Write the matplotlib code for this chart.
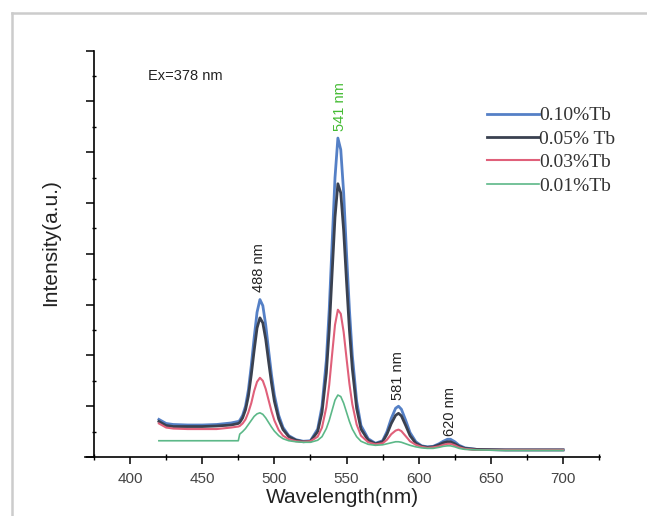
import matplotlib
matplotlib.use('Agg')
import matplotlib.pyplot as plt
from matplotlib.lines import Line2D
from matplotlib.ticker import MultipleLocator, NullFormatter

# wavelength grid (nm)
wavelength = [420, 425, 430, 440, 450, 460, 470, 475, 476, 478, 480, 482, 484, 486, 488, 490,
              492, 494, 496, 498, 500, 503, 506, 510, 515, 520, 525, 530, 533, 536, 538, 540,
              542, 544, 546, 548, 550, 552, 554, 557, 560, 565, 570, 575, 578, 581, 584, 586,
              588, 591, 594, 598, 602, 606, 610, 614, 617, 620, 622, 625, 628, 632, 640, 660,
              680, 700]

tb010 = [0.74, 0.66, 0.64, 0.63, 0.63, 0.64, 0.67, 0.70, 0.72, 0.82, 1.00, 1.32, 1.80, 2.35, 2.85, 3.10,
         2.98, 2.60, 2.10, 1.62, 1.22, 0.82, 0.58, 0.42, 0.34, 0.31, 0.32, 0.55, 1.00, 1.90, 2.90, 4.20,
         5.50, 6.28, 6.05, 5.20, 4.00, 2.90, 2.00, 1.10, 0.62, 0.36, 0.27, 0.32, 0.50, 0.76, 0.96, 1.00,
         0.94, 0.72, 0.48, 0.30, 0.22, 0.20, 0.21, 0.26, 0.31, 0.35, 0.35, 0.30, 0.23, 0.18, 0.15, 0.14,
         0.14, 0.14]

tb005 = [0.70, 0.62, 0.60, 0.60, 0.60, 0.61, 0.63, 0.66, 0.68, 0.77, 0.93, 1.20, 1.62, 2.10, 2.54, 2.74,
         2.64, 2.32, 1.88, 1.46, 1.10, 0.75, 0.54, 0.40, 0.33, 0.30, 0.31, 0.50, 0.88, 1.65, 2.50, 3.62,
         4.72, 5.38, 5.20, 4.46, 3.45, 2.50, 1.74, 0.96, 0.55, 0.33, 0.26, 0.30, 0.45, 0.66, 0.82, 0.86,
         0.81, 0.62, 0.42, 0.27, 0.21, 0.19, 0.20, 0.24, 0.28, 0.30, 0.30, 0.26, 0.21, 0.17, 0.15, 0.14,
         0.14, 0.14]

tb003 = [0.66, 0.58, 0.56, 0.55, 0.55, 0.55, 0.58, 0.60, 0.61, 0.66, 0.74, 0.88, 1.06, 1.30, 1.48, 1.56,
         1.50, 1.34, 1.12, 0.90, 0.72, 0.53, 0.42, 0.35, 0.31, 0.30, 0.31, 0.40, 0.58, 0.98, 1.42, 2.02,
         2.60, 2.90, 2.82, 2.46, 1.94, 1.44, 1.04, 0.64, 0.42, 0.29, 0.25, 0.27, 0.34, 0.45, 0.52, 0.54,
         0.51, 0.41, 0.31, 0.24, 0.20, 0.18, 0.19, 0.21, 0.24, 0.26, 0.26, 0.23, 0.19, 0.16, 0.14, 0.14,
         0.14, 0.14]

tb001 = [0.32, 0.32, 0.32, 0.32, 0.32, 0.32, 0.32, 0.32, 0.45, 0.50, 0.56, 0.64, 0.72, 0.80, 0.85, 0.87,
         0.84, 0.77, 0.68, 0.59, 0.51, 0.42, 0.36, 0.32, 0.30, 0.29, 0.29, 0.33, 0.40, 0.56, 0.72, 0.92,
         1.12, 1.22, 1.19, 1.06, 0.88, 0.70, 0.55, 0.40, 0.31, 0.25, 0.23, 0.24, 0.26, 0.28, 0.30, 0.30,
         0.29, 0.26, 0.23, 0.20, 0.18, 0.17, 0.17, 0.19, 0.21, 0.22, 0.22, 0.20, 0.17, 0.15, 0.14, 0.13,
         0.13, 0.13]

labels = ['0.10%Tb', '0.05% Tb', '0.03%Tb', '0.01%Tb']

# peak annotations: text, wavelength, height
peak_text = ['488 nm', '541 nm', '581 nm', '620 nm']
peak_x = [489.3, 545.4, 585.6, 621.6]
peak_y = [3.73, 6.90, 1.60, 0.89]
peak_col = ['#222222', '#44bb33', '#222222', '#222222']

fig = plt.figure(figsize=(6.47, 5.16), dpi=100)
ax = fig.add_axes([85 / 647, 1 - 457 / 516, 515 / 647, (457 - 50.7) / 516])

ax.plot(wavelength, tb010, color='#5580c6', lw=2.0, label=labels[0])
ax.plot(wavelength, tb005, color='#3a4150', lw=2.0, label=labels[1])
ax.plot(wavelength, tb003, color='#e0607a', lw=1.5, label=labels[2])
ax.plot(wavelength, tb001, color='#5cb888', lw=1.2, label=labels[3])

ax.set_xlim(368.8, 725.6)
ax.set_ylim(0, 8)

# origin style axes: y axis crosses at 375 nm
ax.spines['top'].set_visible(False)
ax.spines['right'].set_visible(False)
ax.spines['left'].set_position(('data', 375))
for s in ['left', 'bottom']:
    ax.spines[s].set_linewidth(1.2)

ax.xaxis.set_minor_locator(MultipleLocator(25))
ax.set_xticks([400, 450, 500, 550, 600, 650, 700])
ax.yaxis.set_major_locator(MultipleLocator(1))
ax.yaxis.set_minor_locator(MultipleLocator(0.5))
ax.yaxis.set_major_formatter(NullFormatter())
ax.tick_params(axis='x', which='major', direction='out', length=5, width=1.1,
               labelsize=11, pad=6, labelcolor='#444444')
ax.tick_params(axis='x', which='minor', direction='inout', length=4, width=1.0)
ax.tick_params(axis='y', which='major', direction='out', length=6, width=1.1)
ax.tick_params(axis='y', which='minor', direction='inout', length=3, width=1.0)
for t in ax.get_xticklabels():
    t.set_family('Liberation Sans')

ax.set_xlabel('Wavelength(nm)', fontsize=15, family='Liberation Sans', color='#222222', labelpad=1)
ax.set_ylabel('Intensity(a.u.)', fontsize=15, family='Liberation Sans', color='#222222')
ax.yaxis.set_label_coords(-0.048, 0.528)

ax.text(412.5, 7.5, 'Ex=378 nm', fontsize=10.5, family='Liberation Sans', color='#222222',
        ha='left', va='center')
for i in range(len(peak_text)):
    ax.text(peak_x[i], peak_y[i], peak_text[i], rotation=90, fontsize=10.5,
            family='Liberation Sans', color=peak_col[i], ha='center', va='center')

leg = ax.legend(loc='upper left', bbox_to_anchor=(477 / 647, 1 - 97 / 516),
                bbox_transform=fig.transFigure, frameon=False, handlelength=2.7,
                handletextpad=0.0, labelspacing=0.3, borderpad=0,
                prop={'family': 'Liberation Serif', 'size': 14})
for t in leg.get_texts():
    t.set_color('#333333')

# grey frame of the screenshot
fig.add_artist(Line2D([12 / 647, 12 / 647], [0, 1 - 13 / 516], color='#cccccc', lw=1.8))
fig.add_artist(Line2D([12 / 647, 1], [1 - 13 / 516, 1 - 13 / 516], color='#cccccc', lw=1.8))

fig.savefig('out.png', dpi=100)
